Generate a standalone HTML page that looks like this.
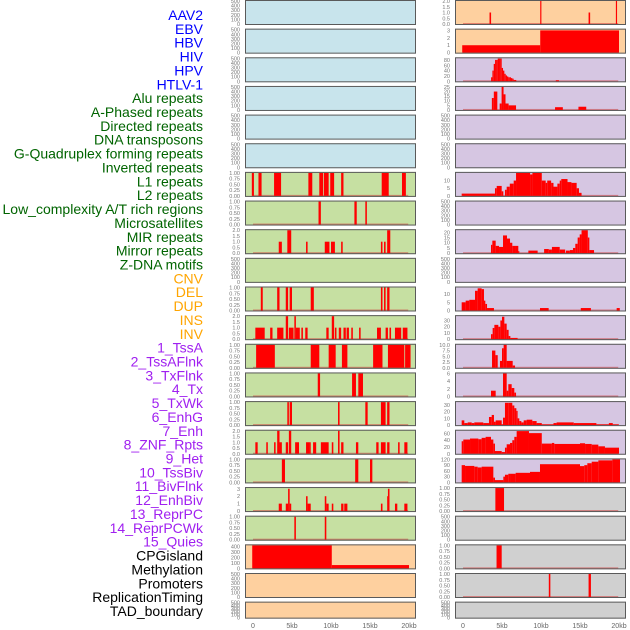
<!DOCTYPE html>
<html><head><meta charset="utf-8">
<style>
html,body{margin:0;padding:0;background:#fff;width:630px;height:630px;overflow:hidden}
svg{display:block;font-family:"Liberation Sans",sans-serif}
</style></head>
<body>
<svg id="chart" width="630" height="630" viewBox="0 0 630 630" xmlns="http://www.w3.org/2000/svg">
<g id="labels"></g>
<g id="panels"></g>
<g id="xaxes"></g>
</svg>
<script>
// ---- labels ----
const trackNames = ["AAV2","EBV","HBV","HIV","HPV","HTLV-1","Alu repeats","A-Phased repeats","Directed repeats","DNA transposons","G-Quadruplex forming repeats","Inverted repeats","L1 repeats","L2 repeats","Low_complexity A/T rich regions","Microsatellites","MIR repeats","Mirror repeats","Z-DNA motifs","CNV","DEL","DUP","INS","INV","1_TssA","2_TssAFlnk","3_TxFlnk","4_Tx","5_TxWk","6_EnhG","7_Enh","8_ZNF_Rpts","9_Het","10_TssBiv","11_BivFlnk","12_EnhBiv","13_ReprPC","14_ReprPCWk","15_Quies","CPGisland","Methylation","Promoters","ReplicationTiming","TAD_boundary"];
const trackGroups = [0,0,0,0,0,0,1,1,1,1,1,1,1,1,1,1,1,1,1,2,2,2,2,2,3,3,3,3,3,3,3,3,3,3,3,3,3,3,3,4,4,4,4,4];
const groupColors = ["#0000ff","#006400","#ffa500","#a020f0","#000000"];

// ---- tick sets ----
const ticksProb = [0,0.25,0.5,0.75,1];
const ticksProbLab = ["0.00","0.25","0.50","0.75","1.00"];
const ticksTwo = [0,0.5,1,1.5,2];
const ticksTwoLab = ["0.0","0.5","1.0","1.5","2.0"];
const ticksBlank = [0,100,200,300,400,500];
const ticksThree = [0,1,2,3];
const xTickKb = [0,5,10,15,20];
const xTickLab = ["0","5kb","10kb","15kb","20kb"];

// ---- left column data (segments: start kb, end kb, value) ----
const segL07 = [[-0.15,0.12,1],[0.7,1.1,1],[2.7,3.6,1],[7.1,7.6,1],[8.5,9.0,1],[9.1,9.7,1],[9.9,10.4,1],[11.3,11.6,1],[16.5,17.4,1],[19.1,19.6,1]];
const segL08 = [[8.4,8.7,1],[13.0,13.3,1],[14.4,14.6,1]];
const segL09 = [[3.3,3.7,1],[4.4,4.9,2],[6.8,7.0,1],[9.2,9.8,1],[10.0,10.5,1],[11.3,11.5,1],[16.4,16.6,1],[16.8,17.0,1],[17.2,17.6,2]];
const segL11 = [[1.0,1.25,1],[3.1,3.4,1],[4.2,4.5,1],[4.7,5.0,1],[7.4,7.8,1],[16.4,16.6,1],[16.8,17.0,1],[17.2,17.5,1]];
const segL12 = [[0.3,1.5,1],[2.2,2.5,1],[3.1,3.9,1],[4.2,4.5,2],[4.6,5.2,1],[5.3,5.5,2],[5.5,6.0,1],[6.2,6.4,1],[6.7,7.0,1],[9.4,9.7,1],[10.1,10.4,2],[10.5,10.7,1],[11.0,11.3,1],[11.6,11.9,1],[12.0,12.3,1],[12.6,12.8,1],[13.6,13.8,1],[15.9,16.4,1],[17.0,17.3,1],[17.5,17.7,1],[18.2,19.0,1],[19.2,19.8,1]];
const segL13 = [[0.4,2.8,1],[7.4,8.5,1],[9.7,10.6,1],[11.4,12.1,1],[15.4,16.6,1],[17.3,19.4,1],[19.5,20.2,1]];
const segL14 = [[8.3,8.6,1],[12.7,13.2,1],[13.5,14.1,1]];
const segL15 = [[4.4,4.6,1],[4.7,5.0,1],[10.9,11.1,1],[14.4,14.7,1],[16.4,17.0,1],[17.2,17.5,1]];
const segL16 = [[0.3,0.6,1],[1.7,1.9,1],[2.7,2.9,1],[3.1,3.4,2],[3.4,3.7,1],[4.2,4.5,1],[4.6,4.9,2],[5.4,5.9,1],[6.8,7.3,1],[7.3,7.4,1],[7.7,8.1,1],[8.7,9.7,1],[10.1,10.3,1],[10.9,11.1,2],[11.3,11.6,1],[13.2,13.5,1],[15.8,16.1,1],[16.4,17.0,1],[17.2,17.5,1],[18.6,18.8,1],[19.4,19.8,1]];
const segL17 = [[3.7,4.1,1],[13.1,13.5,1],[15.0,15.3,1]];
const segL18 = [[3.3,3.7,1],[4.2,4.5,1],[4.5,4.7,3],[4.7,4.9,1],[6.8,7.0,2],[7.0,7.4,1],[9.2,9.4,2],[9.4,9.7,1],[10.1,10.3,1],[11.3,11.6,1],[11.7,12.1,1],[16.4,16.6,1],[17.2,17.3,2],[17.3,17.5,3],[18.2,18.5,1],[19.4,19.8,1]];
const segL19 = [[5.3,5.5,1],[9.2,9.4,1]];
const segL20 = [[-0.1,10.1,420],[10.1,20.0,60]];

// ---- right column data ----
const segR01 = [[3.4,3.6,1],[9.9,10.05,2],[16.1,16.3,1],[19.6,19.75,2]];
const segR02 = [[-0.1,9.9,1],[9.9,20.0,3]];
const edgesR03 = [3.6,3.77,3.94,4.11,4.28,4.45,4.62,4.79,4.96,5.13,5.3,5.47,5.64,5.81,5.98,6.15,6.32,6.49,6.66,6.83];
const valsR03 = [15,40,65,80,80,85,85,85,50,40,28,22,18,15,15,12,10,5,5];
const segR03x = [[11.9,12.3,4]];
const edgesR04 = [3.7,3.95,4.4,4.7,4.95,5.2,5.45,5.85,6.8];
const valsR04 = [13,20,0,7,25,17,7,5];
const segR04x = [[11.8,12.8,3],[14.8,15.8,3.5]];
const edgesR07 = [-0.17,4.1,4.32,4.96,5.17,5.38,5.6,6.0,6.5,6.8,8.6,8.9,10.1,10.6,10.8,11.3,11.6,12.1,12.4,12.6,13.4,13.9,14.57,14.87,15.2];
const valsR07 = [1.5,5,6.5,3,0,4,6,8,10,15,14,15,10,8.5,10,8.5,6,8,10,11,9,8.5,5,2];
const edgesR09 = [3.59,3.76,4.19,4.62,5.13,5.64,6.03,6.32,6.67,7.09,7.22,8.38,9.57,10.4,11.0,11.4,12.4,13.1,13.2,13.7,14.1,14.4,14.7,14.96,15.2,16.0,16.2,16.8];
const valsR09 = [8,12,7,6,17,14,10,7,7,2,0,2.5,0,4,3.5,6,3.5,0,2.5,3,5,9,15,18,22,15,3];
const edgesR11 = [-0.17,0.34,0.81,1.54,1.88,2.39,2.69,2.86,3.08,3.97];
const valsR11 = [5,6,6.5,12,13.5,13,6,4,1.5];
const segR11x = [[9.87,10.98,1.5],[15.1,16.4,1.5],[19.7,20.1,1.5]];
const edgesR12 = [3.59,3.8,4.02,4.53,4.79,5.0,5.3,5.6,5.85,6.07,7.0];
const valsR12 = [8,18,23,20,30,36,25,15,5,2];
const edgesR13 = [3.72,4.15,4.45,4.74,5.0,5.21,5.6,6.37,6.67];
const valsR13 = [7.5,5.5,0,3,8.5,10,3,1];
const edgesR14 = [3.59,4.19,5.13,5.6,5.81,6.24,6.58,6.8];
const valsR14 = [1.5,0,6,1.5,3.2,2.2,1];
const edgesR15 = [-0.17,0.17,0.6,1.11,1.45,2.6,3.33,3.68,3.97,4.19,4.96,5.13,5.38,5.81,6.32,6.58,6.84,7.0,7.22,7.48,7.78,8.16,8.89,9.44,10.1,11.6,12.0,14.2,17.1,18.7,19.2,20.0];
const valsR15 = [7,3,4,3,4,3,12,15,5,7,1,11,33,33,29,25,21,10,6,4,7,8,6,3,1,3,4,3,1,3,1];
const edgesR16 = [-0.17,0.04,0.9,1.97,2.39,2.9,3.59,3.89,4.1,4.96,5.38,5.6,6.03,6.32,6.58,6.88,8.46,10.1,11.4,11.7,15.0,15.65,16.5,17.35,18.2,20.0];
const valsR16 = [37,42,45,43,47,50,42,30,8,5,18,28,32,40,50,67,61,30,32,29,31,29,27,22,18];
const edgesR17 = [-0.17,0.26,1.45,1.88,2.39,3.89,4.1,5.17,5.38,5.81,6.15,6.75,8.59,9.87,15.0,15.55,15.94,16.5,17.35,19.15,20.13];
const valsR17 = [90,86,82,78,82,25,12,30,40,45,45,50,55,95,85,90,100,108,115,120];
const segR18 = [[4.15,5.26,1]];
const segR20 = [[4.3,4.96,1]];
const segR21 = [[11.0,11.2,1],[16.1,16.4,1]];

function toSegs(edges, vals){ const s=[]; for(let i=0;i<vals.length;i++){ if(vals[i]>0) s.push([edges[i],edges[i+1],vals[i]]); } return s; }

const BLUE="#c8e4ec", GREEN="#c6e0a2", PEACH="#fed09f", PURPLE="#d6c6e2", GRAY="#d0d0d0";
const NS="http://www.w3.org/2000/svg";
function mk(tag, attrs, parent){ const e=document.createElementNS(NS,tag); for(const k in attrs) e.setAttribute(k,attrs[k]); parent.appendChild(e); return e; }

const colX = [245,455];
const panelW = 171;
const x0Off = 8;            // 0 kb offset inside panel
const pxPerKb = 7.8;
function xScale(col,kb){ return colX[col]+x0Off+kb*pxPerKb; }
function rowTop(r){ return r*28.65; }
function rowH(r){ return r===21?17:25; }

const leftSpec = [
 [BLUE,null,ticksBlank,null,500],[BLUE,null,ticksBlank,null,500],[BLUE,null,ticksBlank,null,500],
 [BLUE,null,ticksBlank,null,500],[BLUE,null,ticksBlank,null,500],[BLUE,null,ticksBlank,null,500],
 [GREEN,segL07,ticksProb,ticksProbLab,1],[GREEN,segL08,ticksProb,ticksProbLab,1],[GREEN,segL09,ticksTwo,ticksTwoLab,2],
 [GREEN,null,ticksBlank,null,500],[GREEN,segL11,ticksProb,ticksProbLab,1],[GREEN,segL12,ticksTwo,ticksTwoLab,2],
 [GREEN,segL13,ticksProb,ticksProbLab,1],[GREEN,segL14,ticksProb,ticksProbLab,1],[GREEN,segL15,ticksProb,ticksProbLab,1],
 [GREEN,segL16,ticksTwo,ticksTwoLab,2],[GREEN,segL17,ticksProb,ticksProbLab,1],[GREEN,segL18,ticksThree,null,3.1],
 [GREEN,segL19,ticksProb,ticksProbLab,1],[PEACH,segL20,[0,100,200,300,400],null,420],
 [PEACH,null,ticksBlank,null,500],[PEACH,null,ticksBlank,null,500]];
const rightSpec = [
 [PEACH,segR01,ticksTwo,ticksTwoLab,2],[PEACH,segR02,ticksThree,null,3.1],
 [PURPLE,toSegs(edgesR03,valsR03).concat(segR03x),[0,20,40,60,80],null,86],
 [PURPLE,toSegs(edgesR04,valsR04).concat(segR04x),[0,5,10,15,20,25],null,25],
 [PURPLE,null,ticksBlank,null,500],[PURPLE,null,ticksBlank,null,500],
 [PURPLE,toSegs(edgesR07,valsR07),[0,5,10],null,15],[PURPLE,null,ticksBlank,null,500],
 [PURPLE,toSegs(edgesR09,valsR09),[0,5,10,15,20],null,22],[PURPLE,null,ticksBlank,null,500],
 [PURPLE,toSegs(edgesR11,valsR11).concat(segR11x),[0,5,10],null,14],
 [PURPLE,toSegs(edgesR12,valsR12),[0,10,20,30],null,37],
 [PURPLE,toSegs(edgesR13,valsR13),[0,2.5,5,7.5,10],["0.0","2.5","5.0","7.5","10.0"],10],
 [PURPLE,toSegs(edgesR14,valsR14),[0,2,4,6],null,6],
 [PURPLE,toSegs(edgesR15,valsR15),[0,10,20,30],null,34],
 [PURPLE,toSegs(edgesR16,valsR16),[0,20,40,60],null,68],
 [PURPLE,toSegs(edgesR17,valsR17),[0,30,60,90,120],null,120],
 [GRAY,segR18,ticksProb,ticksProbLab,1],[GRAY,null,ticksBlank,null,500],
 [GRAY,segR20,ticksProb,ticksProbLab,1],[GRAY,segR21,ticksProb,ticksProbLab,1],[GRAY,null,ticksBlank,null,500]];

const gL=document.getElementById('labels');
trackNames.forEach((n,i)=>{
  const t=mk('text',{x:203,y:(15+i*13.86+5).toFixed(1),'text-anchor':'end','font-size':'14',fill:groupColors[trackGroups[i]]},gL);
  
  
  t.textContent=n;
});

const gP=document.getElementById('panels');
function drawPanel(col,row,spec){
  const [bg,segs,tv,tl,ymax]=spec;
  const top=rowTop(row), h=rowH(row), x=colX[col];
  const g=mk('g',{},gP);
  
  
  const r=mk('rect',{x:x,y:top,width:panelW,height:h,fill:bg},g);
  
  
  const y0=top+h-1, span=h-2;
  const yS=v=>y0-v/ymax*span;
  if(segs){
    const base=mk('rect',{x:xScale(col,0),y:y0-1,width:xScale(col,19.9)-xScale(col,0),height:1.6,fill:'rgba(205,60,60,0.55)'},g);
    
    
    segs.forEach(s=>{
      const xa=Math.max(x+1,xScale(col,s[0])), xb=Math.min(x+panelW-1,xScale(col,s[1]));
      const yt=Math.max(top+1,yS(s[2]));
      const b=mk('rect',{x:xa.toFixed(2),y:yt.toFixed(2),width:Math.max(0.8,xb-xa).toFixed(2),height:(y0-yt).toFixed(2),fill:'#ff0000'},g);
      
      
    });
  }
  const bd=mk('rect',{x:x+0.5,y:top+0.5,width:panelW-1,height:h-1,fill:'none',stroke:'#5a5a5a','stroke-width':1},g);
  
  
  tv.forEach((v,i)=>{
    const t=mk('text',{x:x-5,y:(yS(v)+2).toFixed(1),'text-anchor':'end','font-size':'5.5',fill:'#777'},g);
    
    
    t.textContent= tl ? tl[i] : String(v);
  });
}
leftSpec.forEach((s,i)=>drawPanel(0,i,s));
rightSpec.forEach((s,i)=>drawPanel(1,i,s));

const gX=document.getElementById('xaxes');
[0,1].forEach(col=>{
  xTickKb.forEach((k,i)=>{
    const t=mk('text',{x:xScale(col,k).toFixed(1),y:628,'text-anchor':'middle','font-size':'7',fill:'#666'},gX);
    
    
    t.textContent=xTickLab[i];
  });
});
</script>
</body></html>
